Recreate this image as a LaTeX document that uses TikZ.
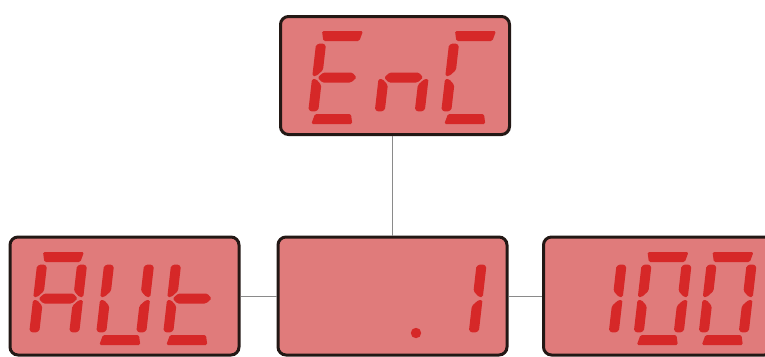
\documentclass[tikz,border=0pt]{standalone}
\definecolor{lcdfill}{HTML}{E07B7B}
\definecolor{segred}{HTML}{D62828}
\definecolor{rim}{HTML}{231815}
\definecolor{wire}{HTML}{8A8A8A}
\tikzset{
  lcd/.style={draw=rim, line width=3pt, fill=lcdfill, rounded corners=8pt,
    minimum width=229pt, minimum height=118pt, inner sep=0pt, outer sep=0pt},
  link/.style={draw=wire, line width=0.8pt, shorten >=1.5pt, shorten <=1.5pt},
  seg/.style={fill=segred, rounded corners=1.5pt}
}
\newcommand\sga{\fill[seg] (4.5,0) -- (45.5,0) -- (43,10) -- (7,10) -- cycle;}
\newcommand\sgd{\fill[seg] (4.5,93) -- (45.5,93) -- (43,83) -- (7,83) -- cycle;}
\newcommand\sgg{\fill[seg] (5.5,46.5) -- (10.5,41.5) -- (39.5,41.5) -- (44.5,46.5) -- (39.5,51.5) -- (10.5,51.5) -- cycle;}
\newcommand\sgf{\fill[seg] (0,14) -- (5,12) -- (10,14) -- (10,39) -- (4,45) -- (0,45) -- cycle;}
\newcommand\sge{\fill[seg] (0,48) -- (4,48) -- (10,54) -- (10,79) -- (5,81) -- (0,79) -- cycle;}
\newcommand\sgb{\fill[seg] (50,14) -- (45,12) -- (40,14) -- (40,39) -- (46,45) -- (50,45) -- cycle;}
\newcommand\sgc{\fill[seg] (50,48) -- (46,48) -- (40,54) -- (40,79) -- (45,81) -- (50,79) -- cycle;}
\newcommand\lcddigit[3]{\begin{scope}[shift={(#1,#2)},xslant=0.115]\foreach \s in {#3}{\csname sg\s\endcsname}\end{scope}}
\begin{document}
\begin{tikzpicture}[x=1pt,y=-1pt]
\clip (0,0) rectangle (765,356);
\node[lcd] (enc) at (395,75.5) {};
\node[lcd] (aut) at (124.5,296) {};
\node[lcd] (dec) at (392.5,296) {};
\node[lcd] (hun) at (658,296) {};
\draw[link] (dec.north) -- (dec.north |- enc.south);
\draw[link] (aut.east) -- (dec.west);
\draw[link] (dec.east) -- (hun.west);
% EnC
\lcddigit{317.5}{31}{a,d,e,f,g}
\lcddigit{384}{31}{c,e,g}
\lcddigit{450.5}{31}{a,d,e,f}
% AUt
\lcddigit{38.5}{252}{a,b,c,e,f,g}
\lcddigit{105.5}{252}{b,c,d,e,f}
\lcddigit{172.5}{252}{d,e,f,g}
% .1
\fill[segred] (416,333) circle[radius=5.2pt];
\lcddigit{438}{252}{b,c}
% 100
\lcddigit{578}{252}{b,c}
\lcddigit{643}{252}{a,b,c,d,e,f}
\lcddigit{708}{252}{a,b,c,d,e,f}
\end{tikzpicture}
\end{document}
